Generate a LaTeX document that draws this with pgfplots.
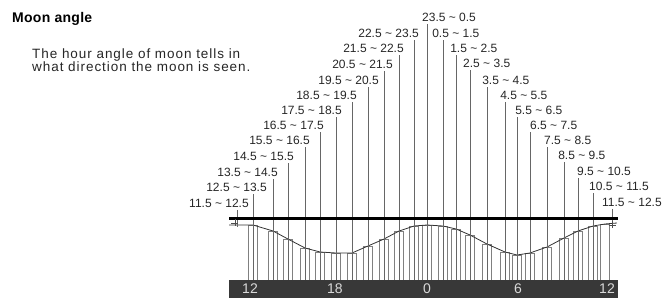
\documentclass[border=0pt]{standalone}
\usepackage{fontspec}
\setmainfont{Liberation Sans}
\usepackage{pgfplots}
\pgfplotsset{compat=1.18}
\newcommand{\rg}[2]{#1\hspace{0.28em}\textasciitilde\hspace{0.28em}#2}
\tikzset{
  lab/.style={font=\fontsize{12bp}{12bp}\selectfont, inner sep=0pt, text=black!85},
  hr/.style={font=\fontsize{14bp}{14bp}\selectfont, text=white!85!black, inner sep=0pt},
}
\begin{document}
\begin{tikzpicture}
\begin{axis}[
  name=ax,
  x=14.875bp, y=1bp,
  xmin=-4.807, xmax=39.832, ymin=0, ymax=298,
  hide axis, clip=false,
]
\path (rel axis cs:0,0) rectangle (rel axis cs:1,1);

% bars (one per hour slot), tops follow the moon-angle curve
\addplot[ybar, bar width=9bp, fill=white, draw=black!50, line width=0.5bp] coordinates {
 (12.20,73) (13.55,67) (14.55,59) (15.70,50) (16.71,46) (17.78,45) (18.86,45)
 (19.93,52) (21.01,59) (22.02,67) (23.03,72) (23.90,73) (24.97,72) (25.85,69)
 (26.79,63) (27.93,54) (29.14,46) (29.95,43) (30.82,45) (31.97,51) (33.11,60)
 (34.05,67) (35.06,72) (35.87,74)
};
% curve through the tops
\addplot[black!80, line width=0.8bp] coordinates {
 (10.59,73) (12.20,73) (13.55,67) (14.55,59) (15.70,50) (16.71,46) (17.78,45) (18.86,45)
 (19.93,52) (21.01,59) (22.02,67) (23.03,72) (23.90,73) (24.97,72) (25.85,69)
 (26.79,63) (27.93,54) (29.14,46) (29.95,43) (30.82,45) (31.97,51) (33.11,60)
 (34.05,67) (35.06,72) (35.87,74) (36.67,75)
};
% leader lines
\addplot[ycomb, black!60, line width=0.6bp] coordinates {
 (12.20,104) (13.55,119) (14.55,135) (15.70,151) (16.71,166) (17.78,181)
 (18.86,196) (19.93,211) (21.01,227) (22.02,243) (23.03,258) (23.90,274)
 (24.97,258) (25.85,243) (26.79,228) (27.93,211) (29.14,196) (29.95,181)
 (30.82,166) (31.97,151) (33.11,136) (34.05,120) (35.06,105)
};
\addplot[black!60, line width=0.6bp] coordinates {(11.13,88) (11.13,71)};
\addplot[black!60, line width=0.6bp] coordinates {(36.34,89) (36.34,71)};
\addplot[only marks, mark=+, mark size=3.5bp, black!70, line width=0.6bp] coordinates {(10.99,75) (36.34,73)};
% thick horizontal line
\addplot[black, line width=3bp] coordinates {(10.59,79) (36.74,79)};
% dark hour strip
\addplot[fill=black!78, draw=none] coordinates {(10.59,-3) (10.59,18) (36.74,18) (36.74,-3)} -- cycle;
\node[hr] at (axis cs:12,9) {12};
\node[hr] at (axis cs:17.71,9) {18};
\node[hr] at (axis cs:23.90,9) {0};
\node[hr] at (axis cs:30.02,9) {6};
\node[hr] at (axis cs:36.0,9) {12};

% labels, left side
\node[lab, anchor=east] at (axis cs:11.93,95)  {\rg{11.5}{12.5}};
\node[lab, anchor=east] at (axis cs:13.14,111) {\rg{12.5}{13.5}};
\node[lab, anchor=east] at (axis cs:13.88,126) {\rg{13.5}{14.5}};
\node[lab, anchor=east] at (axis cs:14.96,142) {\rg{14.5}{15.5}};
\node[lab, anchor=east] at (axis cs:16.03,158) {\rg{15.5}{16.5}};
\node[lab, anchor=east] at (axis cs:16.97,173) {\rg{16.5}{17.5}};
\node[lab, anchor=east] at (axis cs:18.18,188) {\rg{17.5}{18.5}};
\node[lab, anchor=east] at (axis cs:19.19,203) {\rg{18.5}{19.5}};
\node[lab, anchor=east] at (axis cs:20.67,218) {\rg{19.5}{20.5}};
\node[lab, anchor=east] at (axis cs:21.61,234) {\rg{20.5}{21.5}};
\node[lab, anchor=east] at (axis cs:22.35,250) {\rg{21.5}{22.5}};
\node[lab, anchor=east] at (axis cs:23.36,265) {\rg{22.5}{23.5}};
% top
\node[lab, anchor=west] at (axis cs:23.56,281) {\rg{23.5}{0.5}};
% right side
\node[lab, anchor=west] at (axis cs:24.24,265) {\rg{0.5}{1.5}};
\node[lab, anchor=west] at (axis cs:25.45,250) {\rg{1.5}{2.5}};
\node[lab, anchor=west] at (axis cs:26.32,235) {\rg{2.5}{3.5}};
\node[lab, anchor=west] at (axis cs:27.60,218) {\rg{3.5}{4.5}};
\node[lab, anchor=west] at (axis cs:28.81,203) {\rg{4.5}{5.5}};
\node[lab, anchor=west] at (axis cs:29.82,188) {\rg{5.5}{6.5}};
\node[lab, anchor=west] at (axis cs:30.82,173) {\rg{6.5}{7.5}};
\node[lab, anchor=west] at (axis cs:31.76,158) {\rg{7.5}{8.5}};
\node[lab, anchor=west] at (axis cs:32.71,143) {\rg{8.5}{9.5}};
\node[lab, anchor=west] at (axis cs:33.98,127) {\rg{9.5}{10.5}};
\node[lab, anchor=west] at (axis cs:34.79,112) {\rg{10.5}{11.5}};
\node[lab, anchor=west] at (axis cs:35.66,96)  {\rg{11.5}{12.5}};

% title and text
\node[anchor=west, inner sep=0pt, font=\fontsize{14bp}{14bp}\selectfont\bfseries\addfontfeature{LetterSpace=2}] at (axis cs:-4.0,279) {Moon angle};
\node[anchor=north west, inner sep=0pt, align=left, font=\fontsize{13.5bp}{13bp}\selectfont\addfontfeature{LetterSpace=7}, text=black!85] at (axis cs:-2.655,249) {The hour angle of moon tells in\\what direction the moon is seen.};
\end{axis}
\pgfresetboundingbox
\path (ax.south west) rectangle (ax.north east);
\end{tikzpicture}
\end{document}
